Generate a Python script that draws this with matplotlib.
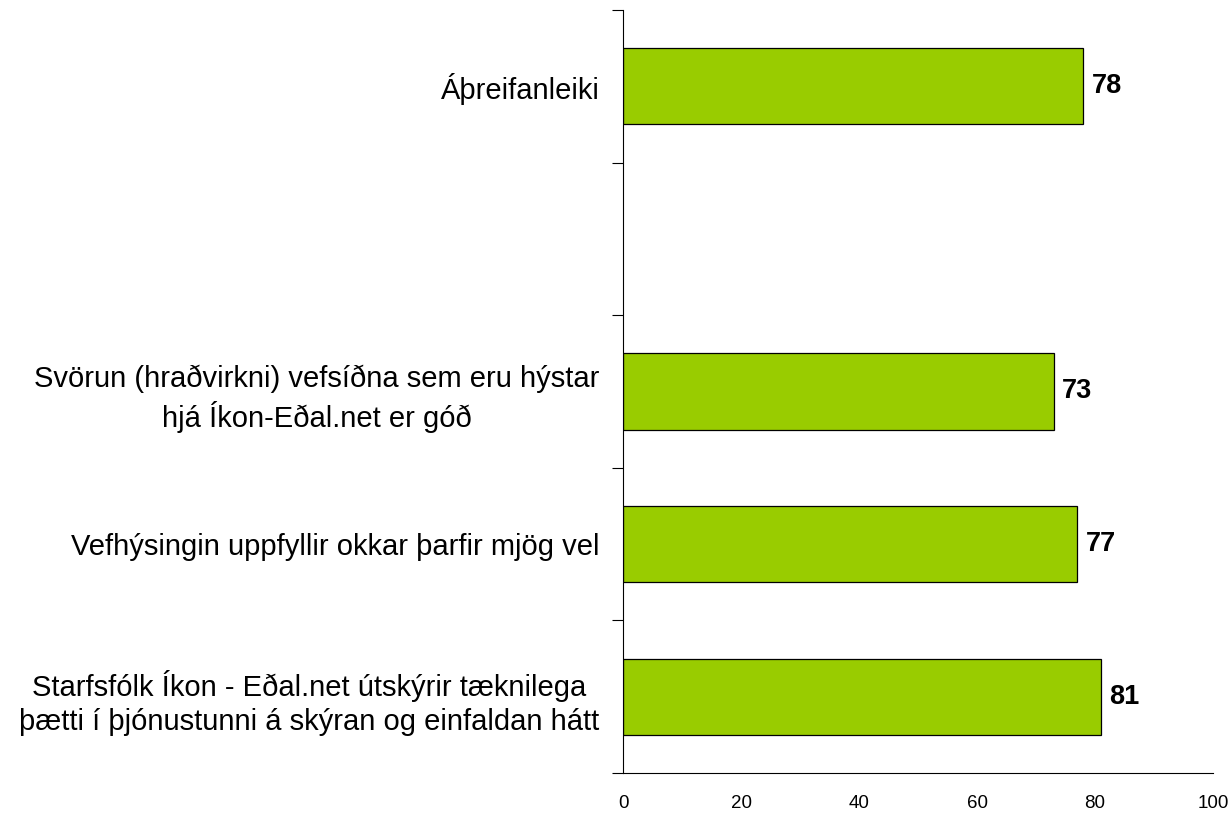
import matplotlib
matplotlib.use('Agg')
import matplotlib.pyplot as plt
from matplotlib.ticker import FixedLocator, NullFormatter

plt.rcParams['font.family'] = ['Liberation Sans', 'DejaVu Sans']

# gögn (top to bottom)
flokkar = ['Áþreifanleiki',
           '',
           'Svörun (hraðvirkni) vefsíðna sem eru hýstar\nhjá Íkon-Eðal.net er góð',
           'Vefhýsingin uppfyllir okkar þarfir mjög vel',
           'Starfsfólk Íkon - Eðal.net útskýrir tæknilega\nþætti í þjónustunni á skýran og einfaldan hátt']
gildi = [78, None, 73, 77, 81]
x_ticks = [0, 20, 40, 60, 80, 100]

fig = plt.figure(figsize=(12.32, 8.14), dpi=100)
ax = fig.add_axes([623/1232, 41/814, 590/1232, 763/814])

pos = [i for i, v in enumerate(gildi) if v is not None]
vals = [v for v in gildi if v is not None]
bars = ax.barh(pos, vals, height=0.5, color='#99CC00', edgecolor='black', linewidth=0.9)

# tölur við enda súlna
for p, v in zip(pos, vals):
    ax.annotate(str(v), xy=(v, p), xytext=(6, 0), textcoords='offset points',
                ha='left', va='center', fontsize=19.5, fontweight='bold')

ax.set_xlim(0, 100)
ax.set_ylim(4.5, -0.5)

ax.set_xticks(x_ticks)
ax.tick_params(axis='x', length=0, pad=16, labelsize=13.5)

# flokkaheiti í miðju, strik á mörkum
ax.set_yticks(range(len(flokkar)))
ax.set_yticklabels(flokkar, fontsize=21, multialignment='center', linespacing=1.3)
ax.tick_params(axis='y', which='major', length=0, pad=17)
ax.yaxis.set_minor_locator(FixedLocator([i - 0.5 for i in range(len(flokkar) + 1)]))
ax.yaxis.set_minor_formatter(NullFormatter())
ax.tick_params(axis='y', which='minor', length=8, width=0.8, direction='out')

for s in ['top', 'right']:
    ax.spines[s].set_visible(False)
ax.spines['left'].set_linewidth(0.8)
ax.spines['bottom'].set_linewidth(0.8)

fig.savefig('out.png', dpi=100)
